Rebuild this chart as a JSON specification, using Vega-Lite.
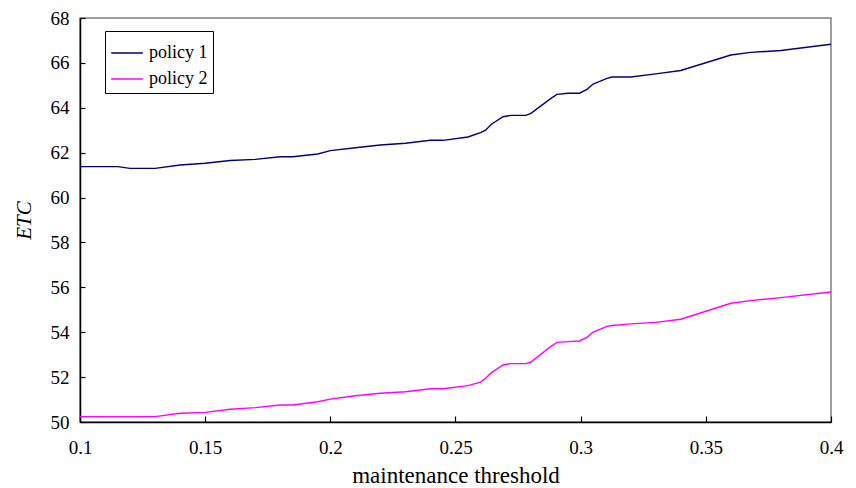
{
  "$schema": "https://vega.github.io/schema/vega-lite/v6.json",
  "autosize": "none",
  "width": 751,
  "height": 404,
  "padding": {"left": 80, "top": 18, "right": 25, "bottom": 66},
  "background": "white",
  "config": {
    "font": "Liberation Serif",
    "view": {"stroke": "#808080", "strokeWidth": 1.5},
    "text": {"font": "Liberation Serif"},
    "legend": {"labelFont": "Liberation Serif", "titleFont": "Liberation Serif"},
    "axis": {"grid": false, "domainColor": "black", "tickColor": "black", "labelColor": "black", "titleColor": "black", "labelFont": "Liberation Serif", "titleFont": "Liberation Serif", "labelFontSize": 19, "titleFontSize": 22, "titleFontWeight": "normal", "domainWidth": 1.5, "tickWidth": 1.2}
  },
  "data": {"values": [
    {"x": 0.1, "y": 61.38, "s": "policy 1"},
    {"x": 0.115, "y": 61.38, "s": "policy 1"},
    {"x": 0.12, "y": 61.3, "s": "policy 1"},
    {"x": 0.13, "y": 61.3, "s": "policy 1"},
    {"x": 0.14, "y": 61.45, "s": "policy 1"},
    {"x": 0.15, "y": 61.53, "s": "policy 1"},
    {"x": 0.16, "y": 61.65, "s": "policy 1"},
    {"x": 0.17, "y": 61.7, "s": "policy 1"},
    {"x": 0.18, "y": 61.82, "s": "policy 1"},
    {"x": 0.185, "y": 61.82, "s": "policy 1"},
    {"x": 0.195, "y": 61.94, "s": "policy 1"},
    {"x": 0.2, "y": 62.09, "s": "policy 1"},
    {"x": 0.21, "y": 62.22, "s": "policy 1"},
    {"x": 0.22, "y": 62.34, "s": "policy 1"},
    {"x": 0.23, "y": 62.42, "s": "policy 1"},
    {"x": 0.24, "y": 62.55, "s": "policy 1"},
    {"x": 0.245, "y": 62.55, "s": "policy 1"},
    {"x": 0.255, "y": 62.7, "s": "policy 1"},
    {"x": 0.26, "y": 62.89, "s": "policy 1"},
    {"x": 0.262, "y": 63.0, "s": "policy 1"},
    {"x": 0.2645, "y": 63.28, "s": "policy 1"},
    {"x": 0.269, "y": 63.6, "s": "policy 1"},
    {"x": 0.272, "y": 63.66, "s": "policy 1"},
    {"x": 0.278, "y": 63.66, "s": "policy 1"},
    {"x": 0.28, "y": 63.74, "s": "policy 1"},
    {"x": 0.288, "y": 64.41, "s": "policy 1"},
    {"x": 0.2905, "y": 64.6, "s": "policy 1"},
    {"x": 0.295, "y": 64.65, "s": "policy 1"},
    {"x": 0.2995, "y": 64.65, "s": "policy 1"},
    {"x": 0.3025, "y": 64.82, "s": "policy 1"},
    {"x": 0.305, "y": 65.06, "s": "policy 1"},
    {"x": 0.3105, "y": 65.31, "s": "policy 1"},
    {"x": 0.3125, "y": 65.37, "s": "policy 1"},
    {"x": 0.32, "y": 65.37, "s": "policy 1"},
    {"x": 0.33, "y": 65.51, "s": "policy 1"},
    {"x": 0.34, "y": 65.66, "s": "policy 1"},
    {"x": 0.36, "y": 66.35, "s": "policy 1"},
    {"x": 0.368, "y": 66.47, "s": "policy 1"},
    {"x": 0.38, "y": 66.55, "s": "policy 1"},
    {"x": 0.4, "y": 66.83, "s": "policy 1"},
    {"x": 0.1, "y": 50.24, "s": "policy 2"},
    {"x": 0.115, "y": 50.24, "s": "policy 2"},
    {"x": 0.12, "y": 50.24, "s": "policy 2"},
    {"x": 0.13, "y": 50.24, "s": "policy 2"},
    {"x": 0.14, "y": 50.39, "s": "policy 2"},
    {"x": 0.15, "y": 50.43, "s": "policy 2"},
    {"x": 0.16, "y": 50.57, "s": "policy 2"},
    {"x": 0.17, "y": 50.64, "s": "policy 2"},
    {"x": 0.18, "y": 50.76, "s": "policy 2"},
    {"x": 0.185, "y": 50.76, "s": "policy 2"},
    {"x": 0.195, "y": 50.9, "s": "policy 2"},
    {"x": 0.2, "y": 51.02, "s": "policy 2"},
    {"x": 0.21, "y": 51.17, "s": "policy 2"},
    {"x": 0.22, "y": 51.28, "s": "policy 2"},
    {"x": 0.23, "y": 51.35, "s": "policy 2"},
    {"x": 0.24, "y": 51.48, "s": "policy 2"},
    {"x": 0.245, "y": 51.48, "s": "policy 2"},
    {"x": 0.255, "y": 51.62, "s": "policy 2"},
    {"x": 0.26, "y": 51.78, "s": "policy 2"},
    {"x": 0.262, "y": 51.95, "s": "policy 2"},
    {"x": 0.2645, "y": 52.21, "s": "policy 2"},
    {"x": 0.269, "y": 52.54, "s": "policy 2"},
    {"x": 0.272, "y": 52.6, "s": "policy 2"},
    {"x": 0.278, "y": 52.6, "s": "policy 2"},
    {"x": 0.28, "y": 52.66, "s": "policy 2"},
    {"x": 0.288, "y": 53.36, "s": "policy 2"},
    {"x": 0.2905, "y": 53.55, "s": "policy 2"},
    {"x": 0.295, "y": 53.58, "s": "policy 2"},
    {"x": 0.2995, "y": 53.61, "s": "policy 2"},
    {"x": 0.3025, "y": 53.77, "s": "policy 2"},
    {"x": 0.305, "y": 54.01, "s": "policy 2"},
    {"x": 0.3105, "y": 54.26, "s": "policy 2"},
    {"x": 0.3125, "y": 54.3, "s": "policy 2"},
    {"x": 0.32, "y": 54.37, "s": "policy 2"},
    {"x": 0.33, "y": 54.44, "s": "policy 2"},
    {"x": 0.34, "y": 54.58, "s": "policy 2"},
    {"x": 0.36, "y": 55.29, "s": "policy 2"},
    {"x": 0.368, "y": 55.41, "s": "policy 2"},
    {"x": 0.38, "y": 55.54, "s": "policy 2"},
    {"x": 0.4, "y": 55.79, "s": "policy 2"}
  ]},
  "mark": {"type": "line", "strokeWidth": 1.4, "interpolate": "linear"},
  "encoding": {
    "x": {
      "field": "x", "type": "quantitative",
      "scale": {"domain": [0.1, 0.4], "nice": false, "zero": false},
      "axis": {"values": [0.1, 0.15, 0.2, 0.25, 0.3, 0.35, 0.4], "format": "~g", "title": "maintenance threshold", "titleFontSize": 23, "tickSize": -6, "labelPadding": 22, "titlePadding": 7, "labelFlush": false}
    },
    "y": {
      "field": "y", "type": "quantitative",
      "scale": {"domain": [50, 68], "nice": false, "zero": false},
      "axis": {"values": [50, 52, 54, 56, 58, 60, 62, 64, 66, 68], "title": "ETC", "titleFontSize": 21, "titleFontStyle": "italic", "tickSize": -5, "labelPadding": 16, "titlePadding": 16, "labelFlush": false}
    },
    "color": {
      "field": "s", "type": "nominal",
      "scale": {"domain": ["policy 1", "policy 2"], "range": ["#000080", "#FF00FF"]},
      "legend": {
        "title": null, "orient": "none", "legendX": 25, "legendY": 13,
        "symbolType": "stroke", "symbolSize": 1000, "symbolStrokeWidth": 1.5,
        "labelFont": "Liberation Serif", "labelFontSize": 18, "labelColor": "black",
        "strokeColor": "black", "fillColor": "white", "padding": 5, "rowPadding": 0,
        "labelOffset": 5
      }
    }
  }
}
